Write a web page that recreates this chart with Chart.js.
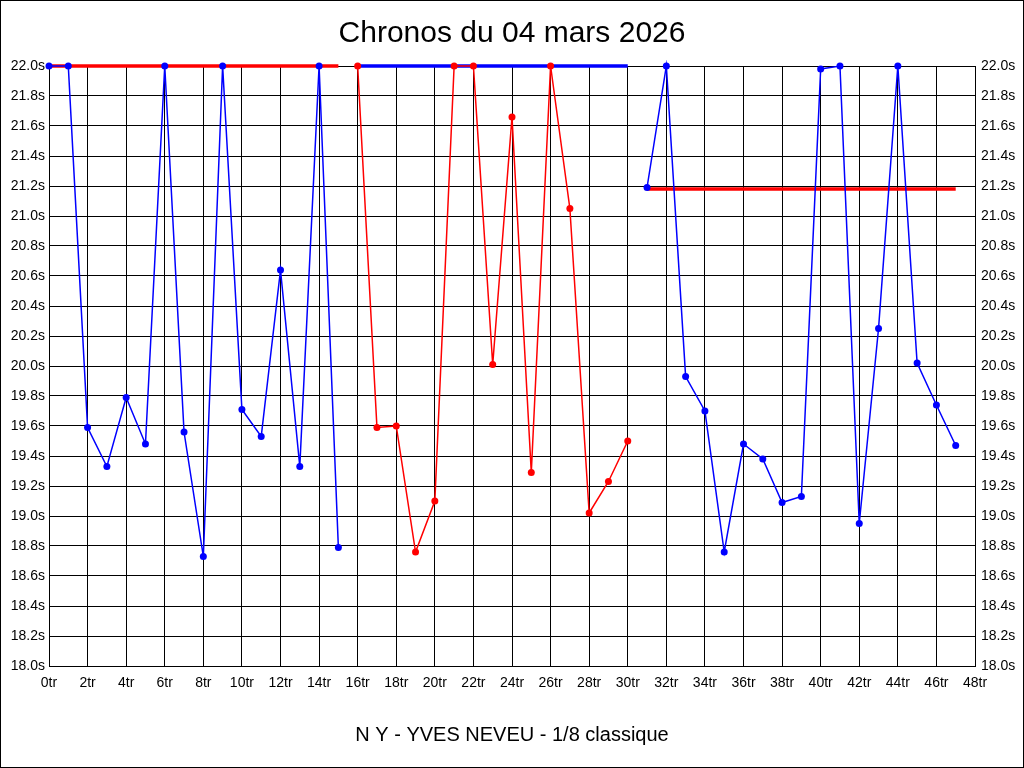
<!DOCTYPE html>
<html>
<head>
<meta charset="utf-8">
<title>Chronos du 04 mars 2026</title>
<script src="https://cdn.jsdelivr.net/npm/chart.js@4/dist/chart.umd.min.js"></script>
<style>
  html, body { margin: 0; padding: 0; background: #fff; }
  canvas { display: block; }
</style>
</head>
<body>
<canvas id="chronos" width="1024" height="768"></canvas>
<script>
// tours (x) et chronos (secondes) par série
const tours1 = [0, 1, 2, 3, 4, 5, 6, 7, 8, 9, 10, 11, 12, 13, 14, 15];
const temps1 = [22.0, 22.0, 19.59, 19.33, 19.79, 19.48, 22.0, 19.56, 18.73, 22.0, 19.71, 19.53, 20.64, 19.33, 22.0, 18.79];

const tours2 = [16, 17, 18, 19, 20, 21, 22, 23, 24, 25, 26, 27, 28, 29, 30];
const temps2 = [22.0, 19.59, 19.6, 18.76, 19.1, 22.0, 22.0, 20.01, 21.66, 19.29, 22.0, 21.05, 19.02, 19.23, 19.5];

const tours3 = [31, 32, 33, 34, 35, 36, 37, 38, 39, 40, 41, 42, 43, 44, 45, 46, 47];
const temps3 = [21.19, 22.0, 19.93, 19.7, 18.76, 19.48, 19.38, 19.09, 19.13, 21.98, 22.0, 18.95, 20.25, 22.0, 20.02, 19.74, 19.47];

// meilleures lignes horizontales: [debut, fin] et valeur
const meilleurTours = [[0, 15], [16, 30], [31, 47]];
const meilleurTemps = [22.0, 22.0, 21.18];

const BLEU = "#0000ff";
const ROUGE = "#ff0000";
const FONTE = "'Liberation Sans', Arial, sans-serif";

function points(xs, ys){
    return xs.map((x, i) => ({ x: x, y: ys[i] }));
}

function serie(xs, ys, couleur){
    return {
        data: points(xs, ys),
        borderColor: couleur,
        backgroundColor: couleur,
        borderWidth: 1.5,
        pointRadius: 3.5,
        pointBorderWidth: 0,
        tension: 0,
        clip: 6,
        order: 1
    };
}

function meilleur(i, couleur){
    return {
        data: meilleurTours[i].map(x => ({ x: x, y: meilleurTemps[i] })),
        borderColor: couleur,
        borderWidth: 3.5,
        pointRadius: 0,
        clip: 6,
        order: 2
    };
}

const cadre = {
    id: "cadre",
    beforeDraw(chart){
        const c = chart.ctx;
        c.save();
        c.fillStyle = "#fff";
        c.fillRect(0, 0, chart.width, chart.height);
        c.restore();
    },
    afterDraw(chart){
        const c = chart.ctx;
        c.save();
        c.strokeStyle = "#000";
        c.lineWidth = 1;
        c.strokeRect(0.5, 0.5, chart.width - 1, chart.height - 1);
        c.restore();
    }
};

const ctx = document.getElementById("chronos").getContext("2d");
new Chart(ctx, {
    type: "line",
    data: {
        datasets: [
            serie(tours1, temps1, BLEU),
            serie(tours2, temps2, ROUGE),
            serie(tours3, temps3, BLEU),
            meilleur(0, ROUGE),
            meilleur(1, BLEU),
            meilleur(2, ROUGE)
        ]
    },
    options: {
        responsive: false,
        animation: false,
        devicePixelRatio: 1,
        layout: { padding: 0 },
        plugins: {
            legend: { display: false },
            tooltip: { enabled: false },
            title: {
                display: true,
                text: "Chronos du 04 mars 2026",
                color: "#000",
                font: { family: FONTE, size: 30, weight: "normal" },
                padding: { top: 16, bottom: 14 }
            },
            subtitle: {
                display: true,
                position: "bottom",
                text: "N Y - YVES NEVEU - 1/8 classique",
                color: "#000",
                font: { family: FONTE, size: 20, weight: "normal" },
                padding: { top: 17, bottom: 21 }
            }
        },
        scales: {
            x: {
                type: "linear",
                min: 0,
                max: 48,
                ticks: {
                    stepSize: 2,
                    color: "#000",
                    font: { family: FONTE, size: 14 },
                    padding: 9,
                    maxRotation: 0,
                    callback: v => v + "tr"
                },
                grid: { color: "#000", lineWidth: 1, drawTicks: false },
                border: { color: "#000", width: 1 },
                afterFit: s => { s.height = 40; }
            },
            y: {
                position: "left",
                min: 18,
                max: 22,
                ticks: {
                    stepSize: 0.2,
                    color: "#000",
                    font: { family: FONTE, size: 14 },
                    padding: 4,
                    callback: v => v.toFixed(1) + "s"
                },
                grid: { color: "#000", lineWidth: 1, drawTicks: false },
                border: { color: "#000", width: 1 },
                afterFit: s => { s.width = 49; }
            },
            y2: {
                position: "right",
                min: 18,
                max: 22,
                ticks: {
                    stepSize: 0.2,
                    color: "#000",
                    font: { family: FONTE, size: 14 },
                    padding: 6,
                    callback: v => v.toFixed(1) + "s"
                },
                grid: { display: false, drawTicks: false },
                border: { color: "#000", width: 1 },
                afterFit: s => { s.width = 49; }
            }
        }
    },
    plugins: [cadre]
});
</script>
</body>
</html>
